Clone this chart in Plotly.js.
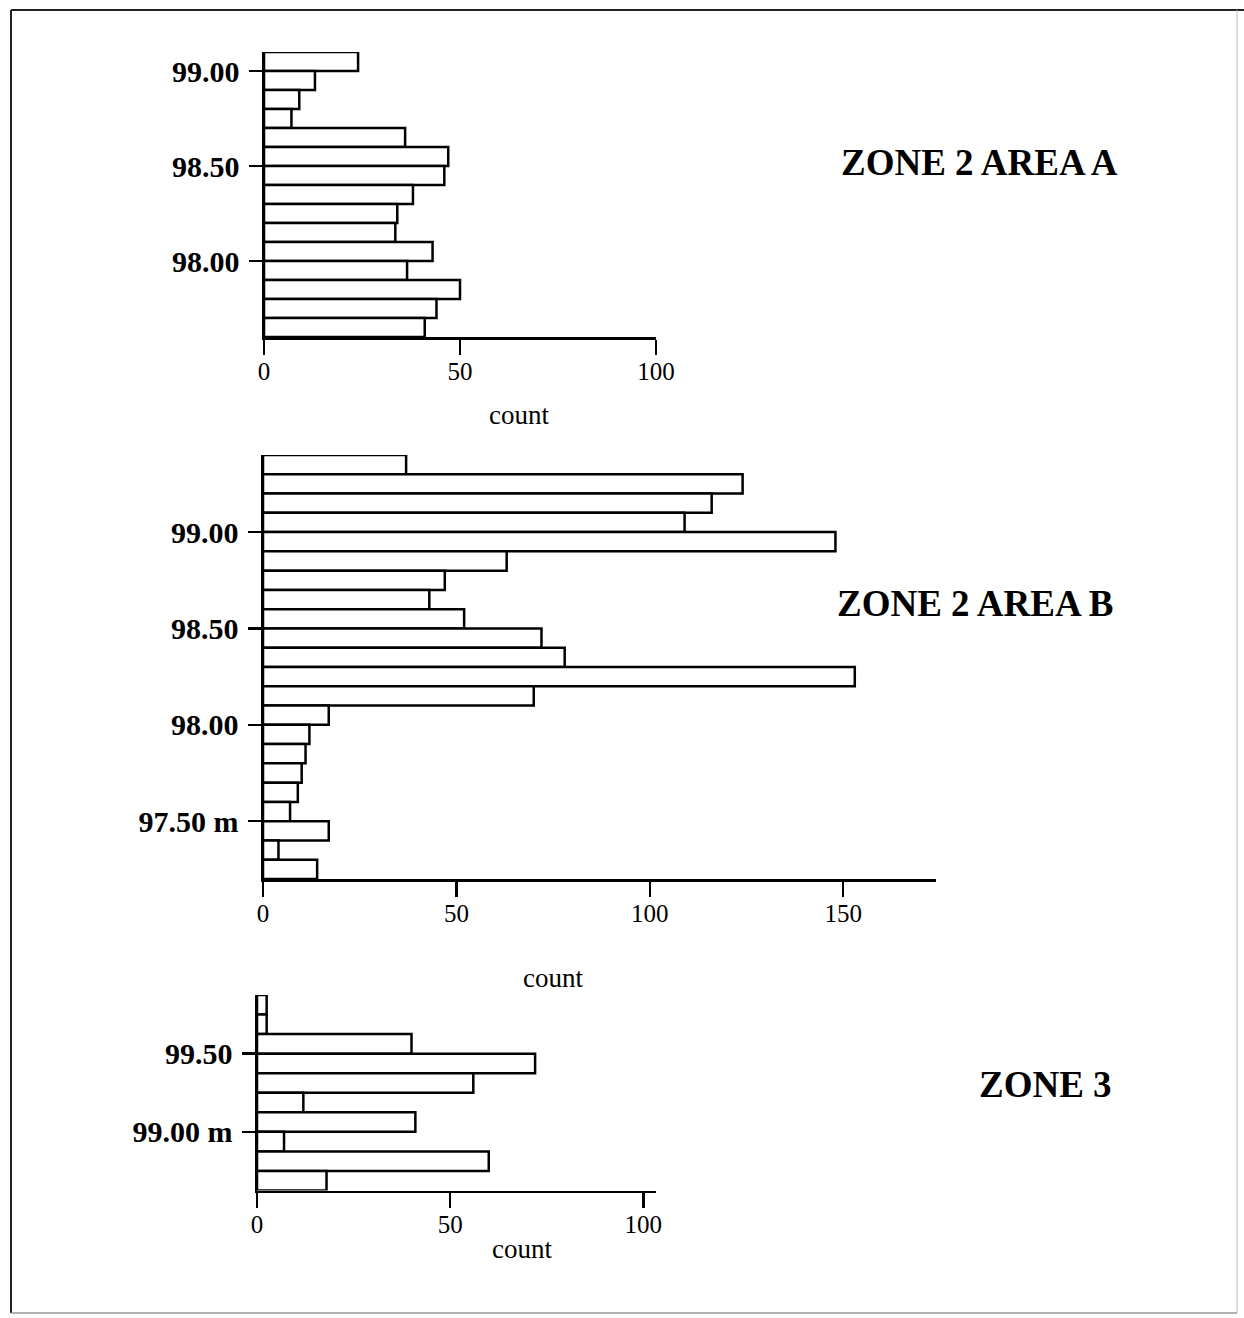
<!DOCTYPE html>
<html>
<head>
<meta charset="utf-8">
<script src="https://cdn.plot.ly/plotly-3.0.1.min.js"></script>
<style>
  html, body { margin: 0; padding: 0; background: #ffffff; }
  #chart { width: 1244px; height: 1318px; }
</style>
</head>
<body>
<div id="chart"></div>
<script>
// ---- Data (depth bin centres in metres, counts) ----
const zoneA_depth = [99.05, 98.95, 98.85, 98.75, 98.65, 98.55, 98.45, 98.35, 98.25, 98.15, 98.05, 97.95, 97.85, 97.75, 97.65];
const zoneA_count = [24, 13, 9, 7, 36, 47, 46, 38, 34, 33.5, 43, 36.5, 50, 44, 41];

const zoneB_depth = [99.35, 99.25, 99.15, 99.05, 98.95, 98.85, 98.75, 98.65, 98.55, 98.45, 98.35,
                     98.25, 98.15, 98.05, 97.95, 97.85, 97.75, 97.65, 97.55, 97.45, 97.35, 97.25];
const zoneB_count = [37, 124, 116, 109, 148, 63, 47, 43, 52, 72, 78, 153, 70, 17, 12, 11, 10, 9, 7, 17, 4, 14];

const zoneC_depth = [99.8125, 99.6875, 99.5625, 99.4375, 99.3125, 99.1875, 99.0625, 98.9375, 98.8125, 98.6875];
const zoneC_count = [2.5, 2.5, 40, 72, 56, 12, 41, 7, 60, 18];

const zoneA_ticks = [99.0, 98.5, 98.0];
const zoneA_tickText = ['99.00', '98.50', '98.00'];
const zoneB_ticks = [99.0, 98.5, 98.0, 97.5];
const zoneB_tickText = ['99.00', '98.50', '98.00', '97.50 m'];
const zoneC_ticks = [99.5, 99.0];
const zoneC_tickText = ['99.50', '99.00 m'];

const countTicksA = [0, 50, 100];
const countTicksB = [0, 50, 100, 150];
const countTicksC = [0, 50, 100];

const titles = ['ZONE 2 AREA A', 'ZONE 2 AREA B', 'ZONE 3'];
const xTitle = 'count';

// ---- Layout helpers ----
const W = 1244, H = 1318;
const px = v => v / W;
const py = v => 1 - v / H;

const serif = 'Liberation Serif, Times New Roman, serif';

function barTrace(depth, count, width, xa, ya) {
  return {
    type: 'bar', orientation: 'h',
    x: count, y: depth, width: width,
    xaxis: xa, yaxis: ya,
    marker: { color: '#ffffff', line: { color: '#000000', width: 2.5 } },
    hoverinfo: 'skip', showlegend: false
  };
}

function xAxis(domain, range, ticks, anchor) {
  return {
    domain: domain, range: range, anchor: anchor,
    tickmode: 'array', tickvals: ticks, ticktext: ticks.map(String),
    ticks: 'outside', ticklen: 15, tickwidth: 2.5, tickcolor: '#000',
    showline: true, linewidth: 2.5, linecolor: '#000',
    showgrid: false, zeroline: false, fixedrange: true,
    ticklabelstandoff: -5,
    tickfont: { family: serif, size: 25, color: '#000' }
  };
}

function yAxis(domain, range, ticks, text, anchor) {
  return {
    domain: domain, range: range, anchor: anchor,
    tickmode: 'array', tickvals: ticks, ticktext: text,
    ticks: 'outside', ticklen: 13, tickwidth: 2.5, tickcolor: '#000',
    showline: true, linewidth: 2.5, linecolor: '#000',
    showgrid: false, zeroline: false, fixedrange: true,
    ticklabelstandoff: 3,
    tickfont: { family: serif, size: 30, color: '#000', weight: 'bold' }
  };
}

const data = [
  barTrace(zoneA_depth, zoneA_count, 0.1, 'x', 'y'),
  barTrace(zoneB_depth, zoneB_count, 0.1, 'x2', 'y2'),
  barTrace(zoneC_depth, zoneC_count, 0.125, 'x3', 'y3')
];

const titleFont = { family: serif, size: 37, color: '#000', weight: 'bold' };
const countFont = { family: serif, size: 27, color: '#000' };

const layout = {
  width: W, height: H,
  margin: { l: 0, r: 0, t: 0, b: 0, pad: 0 },
  paper_bgcolor: '#ffffff', plot_bgcolor: 'rgba(0,0,0,0)',
  bargap: 0, showlegend: false,
  xaxis:  xAxis([px(264), px(656)], [0, 100], countTicksA, 'y'),
  yaxis:  yAxis([py(337), py(52)], [97.6, 99.1], zoneA_ticks, zoneA_tickText, 'x'),
  xaxis2: xAxis([px(263), px(936)], [0, 174], countTicksB, 'y2'),
  yaxis2: yAxis([py(879), py(455)], [97.2, 99.4], zoneB_ticks, zoneB_tickText, 'x2'),
  xaxis3: xAxis([px(257), px(656)], [0, 103.3], countTicksC, 'y3'),
  yaxis3: yAxis([py(1190.5), py(995)], [98.625, 99.875], zoneC_ticks, zoneC_tickText, 'x3'),
  annotations: [
    { text: titles[0], x: px(979), y: py(163), xref: 'paper', yref: 'paper', showarrow: false,
      xanchor: 'center', yanchor: 'middle', font: titleFont },
    { text: titles[1], x: px(975), y: py(604), xref: 'paper', yref: 'paper', showarrow: false,
      xanchor: 'center', yanchor: 'middle', font: titleFont },
    { text: titles[2], x: px(1045), y: py(1084), xref: 'paper', yref: 'paper', showarrow: false,
      xanchor: 'center', yanchor: 'middle', font: titleFont },
    { text: xTitle, x: px(519), y: py(415), xref: 'paper', yref: 'paper', showarrow: false,
      xanchor: 'center', yanchor: 'middle', font: countFont },
    { text: xTitle, x: px(553), y: py(978), xref: 'paper', yref: 'paper', showarrow: false,
      xanchor: 'center', yanchor: 'middle', font: countFont },
    { text: xTitle, x: px(522), y: py(1249), xref: 'paper', yref: 'paper', showarrow: false,
      xanchor: 'center', yanchor: 'middle', font: countFont }
  ],
  shapes: [
    { type: 'line', xref: 'paper', yref: 'paper', x0: px(11), x1: px(1244), y0: py(10), y1: py(10),
      line: { color: '#222', width: 2 } },
    { type: 'line', xref: 'paper', yref: 'paper', x0: px(11), x1: px(11), y0: py(10), y1: py(1313),
      line: { color: '#222', width: 2 } },
    { type: 'line', xref: 'paper', yref: 'paper', x0: px(11), x1: px(1237), y0: py(1313), y1: py(1313),
      line: { color: '#999', width: 1.5 } },
    { type: 'line', xref: 'paper', yref: 'paper', x0: px(1237), x1: px(1237), y0: py(10), y1: py(1313),
      line: { color: '#bbb', width: 1 } }
  ]
};

Plotly.newPlot('chart', data, layout, { staticPlot: true, displayModeBar: false });
</script>
</body>
</html>
